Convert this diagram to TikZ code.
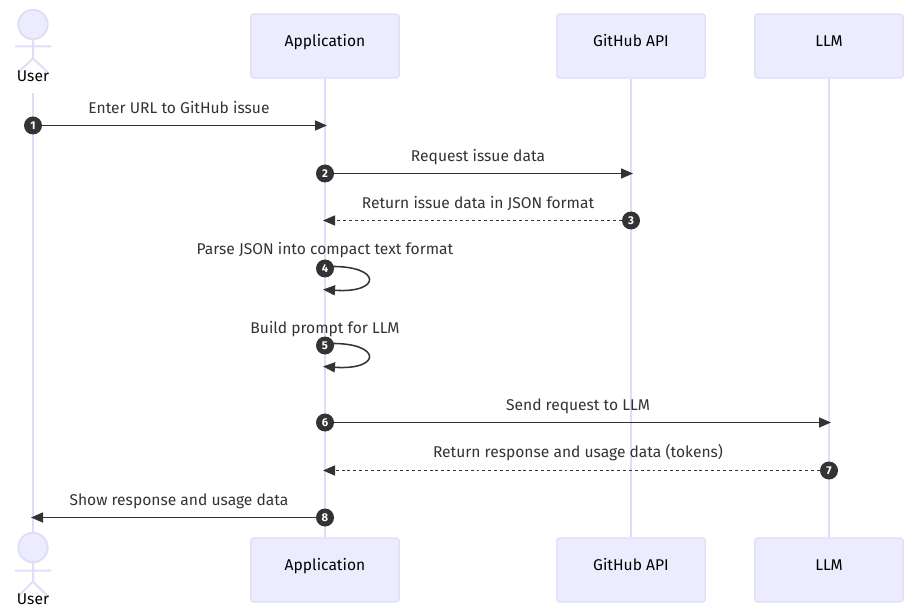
\documentclass[tikz,border=0pt]{standalone}
\usepackage{fontspec}
\setmainfont{Fira Sans}
\usetikzlibrary{arrows.meta}
\definecolor{boxfill}{HTML}{ECECFF}
\definecolor{boxline}{HTML}{E2DCF8}
\definecolor{lifeline}{HTML}{E2DAFA}
\definecolor{ink}{HTML}{333333}
\tikzset{
  x=0.75pt,y=-0.75pt,
  party/.style={draw=boxline,fill=boxfill,line width=0.9pt,rounded corners=2.2pt,minimum width=111.5pt,minimum height=48pt,inner sep=0pt,text=black,font=\fontsize{11.7}{14}\selectfont,text height=1pt,text depth=0pt},
  lifelinestyle/.style={draw=lifeline,line width=1.5pt},
  actorline/.style={draw=boxline,line width=1.5pt},
  actorhead/.style={circle,draw=boxline,fill=boxfill,line width=1.5pt,minimum size=22pt,inner sep=0pt},
  actorname/.style={anchor=base,text=black,inner sep=0pt,font=\fontsize{11.7}{14}\selectfont},
  msg/.style={anchor=base,text=ink,inner sep=0pt,font=\fontsize{11.7}{14}\selectfont},
  badge/.style={circle,fill=ink,minimum size=13.5pt,inner sep=0pt,text=white,font=\fontsize{8.5}{9}\selectfont\bfseries},
  solidmsg/.style={draw=ink,line width=1.15pt,-{Triangle[length=9pt,width=7.5pt]}},
  dashmsg/.style={solidmsg,dash pattern=on 2.2pt off 2.2pt},
}
\begin{document}
\begin{tikzpicture}
\useasboundingbox (0,-0.5) rectangle (916,615.5);
% participants
\node[party] (appT) at (325,45.5) {Application};
\node[party] (ghT) at (631,45.5) {GitHub API};
\node[party] (llmT) at (829,45.5) {LLM};
\node[party] (appB) at (325,569.5) {Application};
\node[party] (ghB) at (631,569.5) {GitHub API};
\node[party] (llmB) at (829,569.5) {LLM};
% actors
\node[actorhead] (headT) at (33,24) {};
\node[actorhead] (headB) at (33,547) {};
\draw[actorline] (15,46) -- (51,46) (33,39) -- (33,58) -- (18,72) (33,58) -- (48,72);
\draw[actorline] (15,570) -- (51,570) (33,562) -- (33,581) -- (18,596) (33,581) -- (48,596);
\node[actorname] (userT) at (33,81) {User};
\node[actorname] (userB) at (33,604) {User};
\coordinate (userLifeTop) at (33,93);
% lifelines
\draw[lifelinestyle] (userLifeTop) -- (headB);
\draw[lifelinestyle] (appT) -- (appB);
\draw[lifelinestyle] (ghT) -- (ghB);
\draw[lifelinestyle] (llmT) -- (llmB);
% badges
\node[badge] (b1) at (33,125) {1};
\node[badge] (b2) at (325,173) {2};
\node[badge] (b3) at (631,220) {3};
\node[badge] (b4) at (325,268) {4};
\node[badge] (b5) at (325,345) {5};
\node[badge] (b6) at (325,422) {6};
\node[badge] (b7) at (829,470) {7};
\node[badge] (b8) at (325,517) {8};
% arrow ends
\coordinate (t1) at (327,125);
\coordinate (t2) at (633,173);
\coordinate (t3) at (323,220);
\coordinate (s4) at (330,266);
\coordinate (t4) at (323,289);
\coordinate (s5) at (330,343);
\coordinate (t5) at (323,366);
\coordinate (t6) at (831,422);
\coordinate (t7) at (323,470);
\coordinate (t8) at (31,517);
% messages
\draw[solidmsg] (b1) -- (t1);
\draw[solidmsg] (b2) -- (t2);
\draw[dashmsg] (b3) -- (t3);
\draw[solidmsg] (s4) .. controls (382,265) and (382,293) .. (t4);
\draw[solidmsg] (s5) .. controls (382,342) and (382,370) .. (t5);
\draw[solidmsg] (b6) -- (t6);
\draw[dashmsg] (b7) -- (t7);
\draw[solidmsg] (b8) -- (t8);
% labels
\node[msg] (l1) at (179,113.5) {Enter URL to GitHub issue};
\node[msg] (l2) at (478,161) {Request issue data};
\node[msg] (l3) at (478,208.5) {Return issue data in JSON format};
\node[msg] (l4) at (325,254.5) {Parse JSON into compact text format};
\node[msg] (l5) at (325,332.5) {Build prompt for LLM};
\node[msg] (l6) at (578,410) {Send request to LLM};
\node[msg] (l7) at (578,457) {Return response and usage data (tokens)};
\node[msg] (l8) at (179,505) {Show response and usage data};
\end{tikzpicture}
\end{document}
